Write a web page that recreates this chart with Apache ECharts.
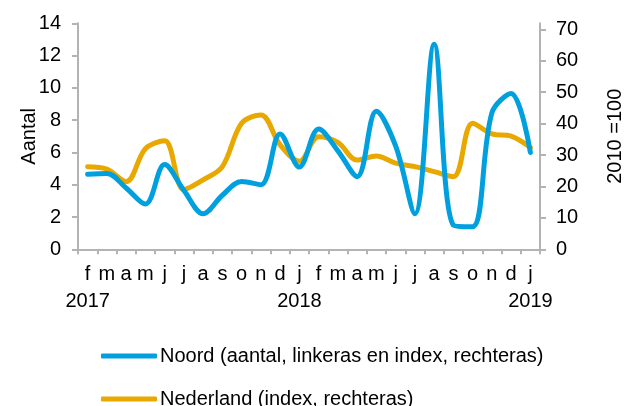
<!DOCTYPE html>
<html>
<head>
<meta charset="utf-8">
<script src="https://cdn.jsdelivr.net/npm/echarts@6/dist/echarts.min.js"></script>
<style>
html,body{margin:0;padding:0;background:#fff;}
#c{width:627px;height:406px;}
</style>
</head>
<body>
<div id="c"></div>
<script>
const months = ['f','m','a','m','j','j','a','s','o','n','d','j','f','m','a','m','j','j','a','s','o','n','d','j'];
const years = {0:'2017', 11:'2018', 23:'2019'};
const noord = [4.65, 4.7, 3.8, 2.8, 5.25, 3.65, 2.2, 3.35, 4.2, 4.0, 7.15, 5.1, 7.45, 6.1, 4.5, 8.55, 6.4, 2.2, 12.7, 1.5, 1.4, 8.45, 9.65, 6.0];
const nederland = [26.3, 25.5, 21.5, 32.0, 34.5, 19.0, 22.1, 26.3, 40.1, 42.7, 33.2, 28.0, 35.8, 34.0, 28.4, 29.7, 27.4, 26.3, 24.7, 23.1, 40.1, 36.7, 36.0, 32.4];
const leftTicks = [0,2,4,6,8,10,12,14];
const rightTicks = [0,10,20,30,40,50,60,70];

const categories = months.map((m,i)=> years[i] ? m + '\n' + years[i] : m);
const font = 'Liberation Sans, Arial, sans-serif';
const axisCol = '#b3b3b3';
const nameN = 'Noord (aantal, linkeras en index, rechteras)';
const nameNL = 'Nederland (index, rechteras)';
const legendBase = {
  orient:'vertical', left:101, padding:0,
  itemWidth:56, itemHeight:5, itemGap:4,
  icon:'roundRect',
  textStyle:{fontFamily:font, fontSize:20, color:'#000', lineHeight:20, padding:[0,0,0,-2]}
};
const chart = echarts.init(document.getElementById('c'), null, {renderer:'canvas'});
chart.setOption({
  animation:false,
  textStyle:{fontFamily:font},
  grid:{left:78, right:87, top:23.3, bottom:156.7, containLabel:false, outerBoundsMode:'none'},
  legend:[
    Object.assign({}, legendBase, {top:346, data:[nameN]}),
    Object.assign({}, legendBase, {top:389, data:[nameNL]})
  ],
  xAxis:{
    type:'category', data:categories, boundaryGap:true,
    axisLine:{lineStyle:{color:axisCol, width:2}},
    axisTick:{show:true, inside:false, length:5, alignWithLabel:false, interval:0, lineStyle:{color:axisCol, width:2}},
    axisLabel:{interval:0, color:'#000', fontSize:20, fontFamily:font, lineHeight:27, margin:12},
    splitLine:{show:false}
  },
  yAxis:[
    {type:'value', min:0, max:14, interval:2, position:'left',
     name:'Aantal', nameLocation:'middle', nameRotate:90, nameGap:39, nameMoveOverlap:false,
     nameTextStyle:{fontSize:20, color:'#000', fontFamily:font},
     axisLine:{show:true, lineStyle:{color:axisCol, width:2}},
     axisTick:{show:true, length:6, lineStyle:{color:axisCol, width:2}},
     axisLabel:{color:'#000', fontSize:20, fontFamily:font, margin:17},
     splitLine:{show:false}},
    {type:'value', min:0, max:71.9, interval:10, position:'right',
     name:'2010 =100', nameLocation:'middle', nameRotate:90, nameGap:65, nameMoveOverlap:false,
     nameTextStyle:{fontSize:20, color:'#000', fontFamily:font},
     axisLine:{show:true, lineStyle:{color:axisCol, width:2}},
     axisTick:{show:true, length:6, customValues:rightTicks, lineStyle:{color:axisCol, width:2}},
     axisLabel:{color:'#000', fontSize:20, fontFamily:font, margin:16, customValues:rightTicks},
     splitLine:{show:false}}
  ],
  series:[
    {name:nameNL, type:'line', yAxisIndex:1, data:nederland, smooth:0.35,
     showSymbol:false, symbol:'none', lineStyle:{color:'#e8a800', width:5, cap:'round', join:'round'}, itemStyle:{color:'#e8a800'}, z:2},
    {name:nameN, type:'line', yAxisIndex:0, data:noord, smooth:0.35,
     showSymbol:false, symbol:'none', lineStyle:{color:'#00a0df', width:5, cap:'round', join:'round'}, itemStyle:{color:'#00a0df'}, z:3}
  ]
});
</script>
</body>
</html>
